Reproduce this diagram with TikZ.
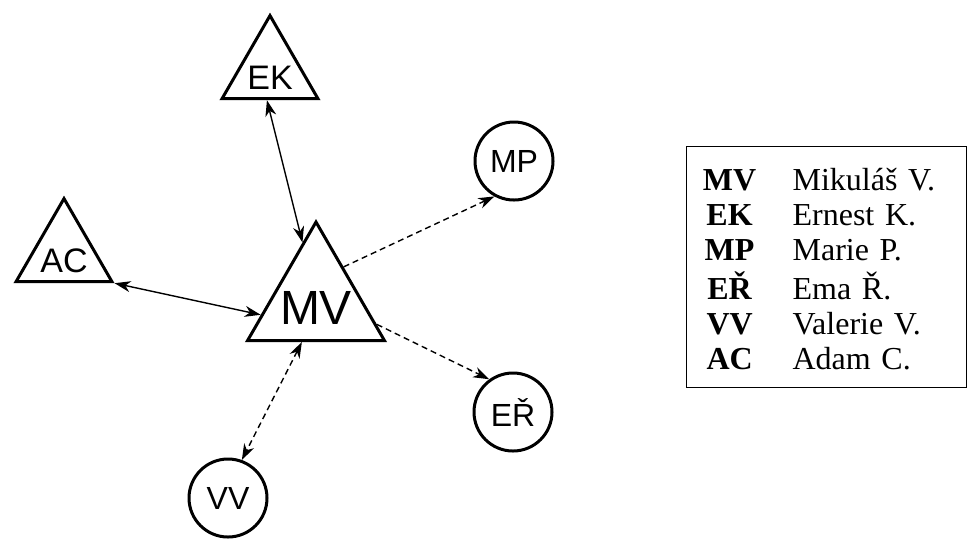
\documentclass[tikz,border=0pt]{standalone}
\usepackage{fontspec}
\setmainfont{Liberation Serif}
\setsansfont{Liberation Sans}
\usepackage{array}
\usetikzlibrary{shapes.geometric,arrows.meta}

\begin{document}
\begin{tikzpicture}[x=0.5pt,y=-0.5pt,thick,>={Stealth[length=8pt,width=5.5pt,inset=2.5pt]}]
\tikzstyle{tri} = [draw,fill=white,line width=1.5pt,regular polygon,regular polygon sides=3,inner sep=0pt,minimum size=55.4pt,font=\sffamily\fontsize{17}{17}\selectfont]
\tikzstyle{bigtri} = [tri,minimum size=79pt,font=\sffamily\fontsize{24}{24}\selectfont]
\tikzstyle{circ} = [draw,fill=white,line width=1.5pt,circle,inner sep=0pt,minimum size=39pt,font=\sffamily\fontsize{16}{16}\selectfont]
\tikzstyle{link} = [line width=0.7pt]
\tikzstyle{dlink} = [line width=0.7pt,dash pattern=on 3pt off 2pt]
\tikzstyle{key} = [draw,line width=0.6pt,anchor=north west,inner xsep=8pt,inner ysep=0pt,text width=123.75pt,minimum height=120.5pt,font=\fontsize{16}{17.6}\selectfont]
\newcommand{\low}[2]{\smash{\makebox[0pt]{\raisebox{-#1}{#2}}}}
\useasboundingbox (0,0) rectangle (967,538);
\node[bigtri] (MV) at (316,301) {\low{11.75pt}{MV}};
\node[tri] (EK) at (270,71) {\low{9pt}{EK}};
\node[tri] (AC) at (64,254) {\low{9pt}{AC}};
\node[circ] (MP) at (514,161) {MP};
\node[circ] (ER) at (513,412) {EŘ};
\node[circ] (VV) at (228,498) {VV};
\draw[link,<->] (EK.264) -- (MV.103);
\draw[link,<->] (AC.-30) -- (MV.194);
\draw[dlink,->] (MV.51) -- (MP.241);
\draw[dlink,->] (MV.-21) -- (ER.126);
\draw[dlink,<->] (MV.251) -- (VV.70);
% legend
\node[key] (key) at (686,146) {\vspace*{-6pt}\noindent\begin{tabular}{@{}>{\bfseries}wc{27pt}@{\hspace{18pt}}l@{}}
MV & Mikuláš V.\\
EK & Ernest K.\\
MP & Marie P.\\
EŘ & Ema Ř.\\
VV & Valerie V.\\
AC & Adam C.
\end{tabular}};
\end{tikzpicture}
\end{document}
